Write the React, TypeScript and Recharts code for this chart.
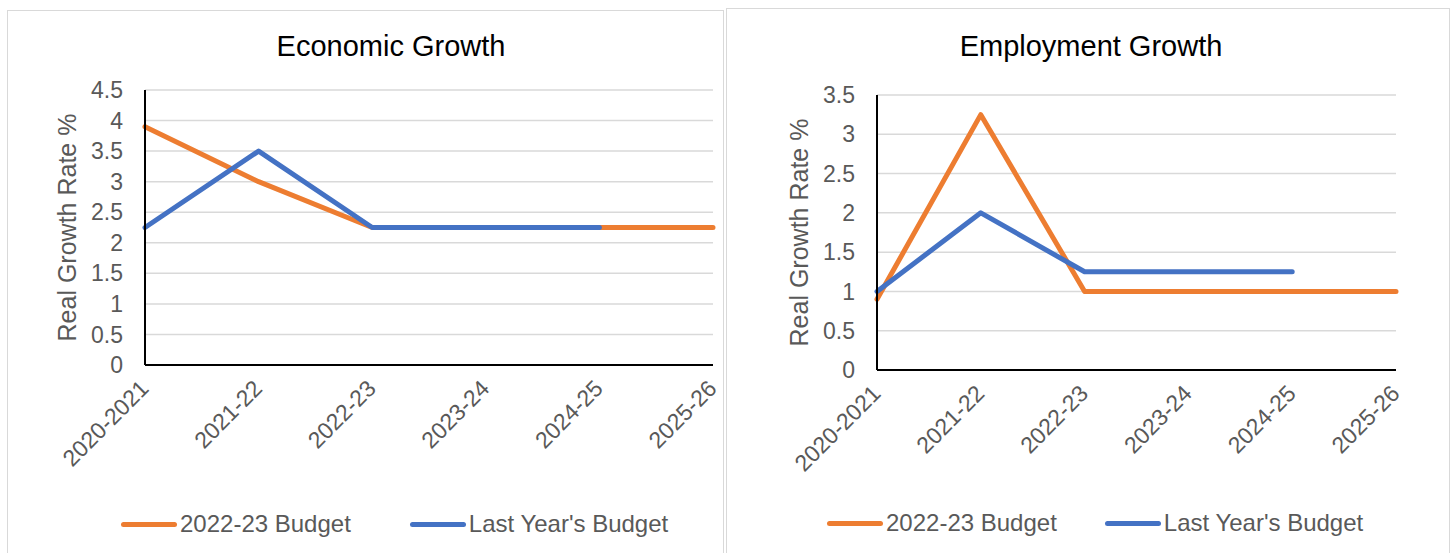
import { CartesianGrid, Label, Legend, Line, LineChart, XAxis, YAxis } from "recharts";

const years = ["2020-2021", "2021-22", "2022-23", "2023-24", "2024-25", "2025-26"];

const econBudget = [3.9, 3.0, 2.25, 2.25, 2.25, 2.25];
const econLastYear = [2.25, 3.5, 2.25, 2.25, 2.25, null];
const econTicks = [0, 0.5, 1, 1.5, 2, 2.5, 3, 3.5, 4, 4.5];

const empBudget = [0.9, 3.25, 1, 1, 1, 1];
const empLastYear = [1, 2, 1.25, 1.25, 1.25, null];
const empTicks = [0, 0.5, 1, 1.5, 2, 2.5, 3, 3.5];

const FONT = '"Liberation Sans", Arial, Helvetica, sans-serif';
const GREY = "#595959";
const ORANGE = "#ED7D31";
const BLUE = "#4472C4";

function YearTick({ x, y, payload }: any) {
  const px = x + 5;
  const py = y + 25;
  return (
    <text x={px} y={py} transform={`rotate(-45 ${px} ${py})`} textAnchor="end" fill={GREY} fontSize={23} fontFamily={FONT}>
      {payload.value}
    </text>
  );
}

function yLabel({ viewBox }: any) {
  const cx = viewBox.x + 12;
  const cy = viewBox.y + viewBox.height / 2;
  return (
    <text x={cx} y={cy} transform={`rotate(-90 ${cx} ${cy})`} textAnchor="middle" dominantBaseline="central" fill={GREY} fontSize={25} fontFamily={FONT}>
      Real Growth Rate %
    </text>
  );
}

const legendContent = (gap: number) => ({ payload }: any) => (
  <div style={{ display: "flex", alignItems: "center", gap, fontFamily: FONT, fontSize: 24, color: GREY, lineHeight: "24px" }}>
    {(payload || []).map((item: any) => (
      <div key={item.value} style={{ display: "flex", alignItems: "center" }}>
        <span style={{ display: "inline-block", width: 56, height: 5, borderRadius: 3, background: item.color, marginRight: 3 }} />
        <span>{item.value}</span>
      </div>
    ))}
  </div>
);

type PanelProps = {
  title: string;
  box: { left: number; top: number; width: number; height: number };
  titleX: number;
  margin: { top: number; right: number; bottom: number; left: number };
  budget: (number | null)[];
  lastYear: (number | null)[];
  ticks: number[];
  legendLeft: number;
  legendTop: number;
  legendGap: number;
};

function Panel({ title, box, titleX, margin, budget, lastYear, ticks, legendLeft, legendTop, legendGap }: PanelProps) {
  const data = years.map((year, i) => ({ year, budget: budget[i], lastYear: lastYear[i] }));
  const w = box.width - 2;
  const h = box.height - 2;
  return (
    <div style={{ position: "absolute", left: box.left, top: box.top, width: w, height: h, border: "1px solid #d9d9d9", background: "#fff" }}>
      <div style={{ position: "absolute", left: titleX - box.left - 200, top: 31 - box.top, width: 400, textAlign: "center", fontFamily: FONT, fontSize: 29, lineHeight: "29px", color: "#000" }}>
        {title}
      </div>
      <LineChart width={w} height={h} data={data} margin={margin}>
        <CartesianGrid vertical={false} stroke="#d9d9d9" strokeWidth={1.5} />
        <XAxis
          dataKey="year"
          tick={<YearTick />}
          tickLine={false}
          tickSize={0}
          tickMargin={0}
          interval={0}
          height={120}
          axisLine={{ stroke: "#000", strokeWidth: 2 }}
        />
        <YAxis
          domain={[0, ticks[ticks.length - 1]]}
          ticks={ticks}
          interval={0}
          width={90}
          tickLine={false}
          tickSize={0}
          tickMargin={22}
          tick={{ fill: GREY, fontSize: 23, fontFamily: FONT }}
          axisLine={{ stroke: "#000", strokeWidth: 2 }}
        >
          <Label content={yLabel} />
        </YAxis>
        <Legend
          layout="horizontal"
          verticalAlign="middle"
          align="center"
          content={legendContent(legendGap)}
          wrapperStyle={{ left: legendLeft, top: legendTop, width: 700 }}
        />
        <Line name="2022-23 Budget" dataKey="budget" type="linear" stroke={ORANGE} strokeWidth={5} strokeLinecap="round" strokeLinejoin="round" dot={false} activeDot={false} isAnimationActive={false} />
        <Line name="Last Year's Budget" dataKey="lastYear" type="linear" stroke={BLUE} strokeWidth={5} strokeLinecap="round" strokeLinejoin="round" dot={false} activeDot={false} isAnimationActive={false} />
      </LineChart>
    </div>
  );
}

export default function App() {
  return (
    <div style={{ position: "absolute", left: 0, top: 0, width: 1456, height: 553, overflow: "hidden", background: "#fff" }}>
      <Panel
        title="Economic Growth"
        box={{ left: 7, top: 10, width: 717, height: 560 }}
        titleX={390}
        margin={{ top: 79, right: 10, bottom: 84, left: 47 }}
        budget={econBudget}
        lastYear={econLastYear}
        ticks={econTicks}
        legendLeft={113}
        legendTop={501}
        legendGap={59}
      />
      <Panel
        title="Employment Growth"
        box={{ left: 726, top: 8, width: 724, height: 560 }}
        titleX={1090}
        margin={{ top: 86, right: 53, bottom: 77, left: 60 }}
        budget={empBudget}
        lastYear={empLastYear}
        ticks={empTicks}
        legendLeft={100}
        legendTop={502}
        legendGap={48}
      />
    </div>
  );
}
